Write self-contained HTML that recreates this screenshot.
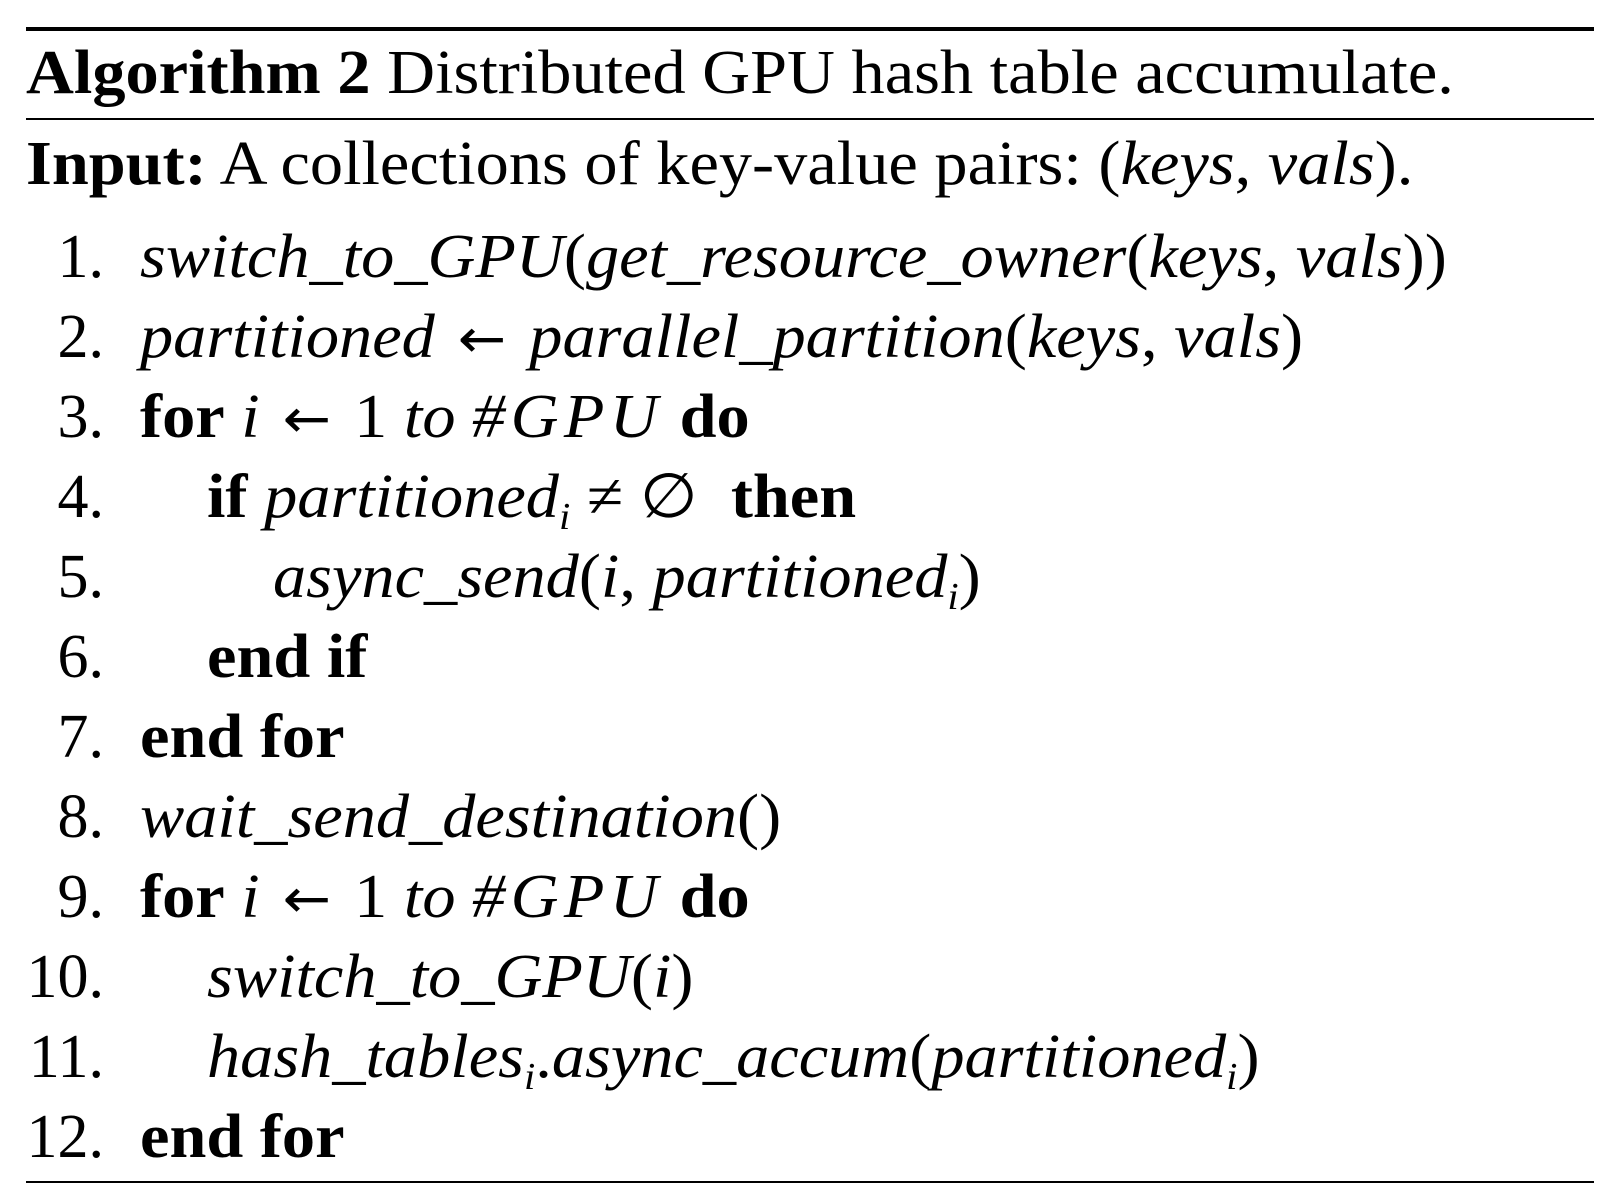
<!DOCTYPE html>
<html><head><meta charset="utf-8"><style>
html,body{margin:0;padding:0;background:#fff;}
body{width:1620px;height:1196px;position:relative;overflow:hidden;font-family:"Liberation Serif",serif;color:#000;}
.r{position:absolute;left:26px;width:1568px;background:#000;}
.t{position:absolute;white-space:nowrap;font-size:62px;line-height:1;transform:scaleX(1.07);transform-origin:0 0;}
.n{position:absolute;width:104px;text-align:right;font-size:62px;line-height:1;white-space:nowrap;}
i{font-style:italic;}
b{font-weight:bold;}
.a{font-family:"DejaVu Sans",sans-serif;font-size:54px;margin:0 6px;}
.m{letter-spacing:5px;}
sub{font-size:38px;font-style:italic;vertical-align:-12px;line-height:0;}
</style></head><body>
<div class="r" style="top:27px;height:4px"></div>
<div class="t" style="left:26px;top:42px"><b>Algorithm 2</b> Distributed GPU hash table accumulate.</div>
<div class="r" style="top:118px;height:2px"></div>
<div class="t" style="left:26px;top:133px"><b>Input:</b> A collections of key-value pairs: (<i>keys</i>, <i>vals</i>).</div>

<div class="n" style="top:226px">1.</div>
<div class="t" style="left:140px;top:226px"><i>switch_to_GPU</i>(<i>get_resource_owner</i>(<i>keys</i>, <i>vals</i>))</div>
<div class="n" style="top:306px">2.</div>
<div class="t" style="left:140px;top:306px"><i>partitioned</i> <span class="a">←</span> <i>parallel_partition</i>(<i>keys</i>, <i>vals</i>)</div>
<div class="n" style="top:386px">3.</div>
<div class="t" style="left:140px;top:386px"><b>for</b> <i>i</i> <span class="a">←</span> 1 <i>to</i> <i class="m">#GPU</i> <b>do</b></div>
<div class="n" style="top:466px">4.</div>
<div class="t" style="left:207px;top:466px"><b>if</b> <i>partitioned</i><sub>i</sub> ≠ ∅ &nbsp;<b>then</b></div>
<div class="n" style="top:546px">5.</div>
<div class="t" style="left:273px;top:546px"><i>async_send</i>(<i>i</i>, <i>partitioned</i><sub>i</sub>)</div>
<div class="n" style="top:626px">6.</div>
<div class="t" style="left:207px;top:626px"><b>end if</b></div>
<div class="n" style="top:706px">7.</div>
<div class="t" style="left:140px;top:706px"><b>end for</b></div>
<div class="n" style="top:786px">8.</div>
<div class="t" style="left:140px;top:786px"><i>wait_send_destination</i>()</div>
<div class="n" style="top:866px">9.</div>
<div class="t" style="left:140px;top:866px"><b>for</b> <i>i</i> <span class="a">←</span> 1 <i>to</i> <i class="m">#GPU</i> <b>do</b></div>
<div class="n" style="top:946px">10.</div>
<div class="t" style="left:207px;top:946px"><i>switch_to_GPU</i>(<i>i</i>)</div>
<div class="n" style="top:1026px">11.</div>
<div class="t" style="left:207px;top:1026px"><i>hash_tables</i><sub>i</sub>.<i>async_accum</i>(<i>partitioned</i><sub>i</sub>)</div>
<div class="n" style="top:1106px">12.</div>
<div class="t" style="left:140px;top:1106px"><b>end for</b></div>
<div class="r" style="top:1181px;height:2px"></div>
</body></html>
